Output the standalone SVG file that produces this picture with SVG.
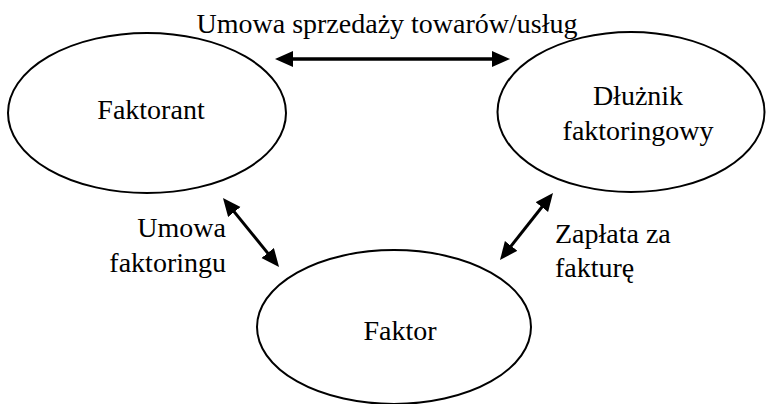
<svg xmlns="http://www.w3.org/2000/svg" width="766" height="404" viewBox="0 0 766 404">
<style>
.node{fill:#fff;stroke:#000;stroke-width:2}
.t{font-family:"Liberation Serif","Times New Roman",serif;font-size:28px;fill:#000}
.c{stroke:#000;stroke-width:3.5;fill:none;marker-start:url(#ah);marker-end:url(#ah)}
.d{stroke-width:3}
</style>
<defs>
<marker id="ah" markerUnits="userSpaceOnUse" markerWidth="20" markerHeight="18" refX="4" refY="8" orient="auto-start-reverse">
<path d="M0,0 L18,8 L0,16 Z" fill="#000"/>
</marker>
</defs>
<rect width="766" height="404" fill="#fff"/>
<g id="faktorant">
<ellipse class="node" cx="147" cy="113" rx="139" ry="80"/>
<text class="t" x="151" y="119" text-anchor="middle">Faktorant</text>
</g>
<g id="dluznik">
<ellipse class="node" cx="631" cy="112" rx="133.5" ry="80"/>
<text class="t" x="638" y="105" text-anchor="middle">Dłużnik</text>
<text class="t" x="638" y="140" text-anchor="middle">faktoringowy</text>
</g>
<g id="faktor">
<ellipse class="node" cx="394" cy="327" rx="137" ry="77"/>
<text class="t" x="400" y="340" text-anchor="middle">Faktor</text>
</g>
<g id="connectors">
<line class="c" x1="289" y1="59" x2="496" y2="59"/>
<line class="c d" x1="231.8" y1="208.9" x2="270.2" y2="256.1"/>
<line class="c d" x1="544.3" y1="204" x2="508.7" y2="249"/>
</g>
<g id="labels">
<text class="t" x="387" y="33" text-anchor="middle">Umowa sprzedaży towarów/usług</text>
<text class="t" x="226" y="237" text-anchor="end">Umowa</text>
<text class="t" x="226" y="272" text-anchor="end">faktoringu</text>
<text class="t" x="555" y="243">Zapłata za</text>
<text class="t" x="555" y="277">fakturę</text>
</g>
</svg>
